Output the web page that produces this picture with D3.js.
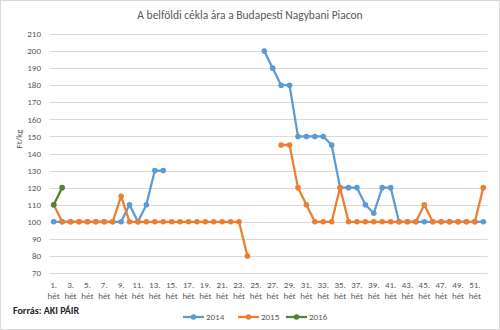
<!DOCTYPE html>
<html><head><meta charset="utf-8">
<script src="https://cdn.jsdelivr.net/npm/d3@7"></script>
<style>body{margin:0;background:#fff}svg{display:block}text{font-family:Calibri,Carlito,"Open Sans",sans-serif}</style>
</head><body>
<script>
const weeks = d3.range(1, 53);
const seriesNames = ["2014", "2015", "2016"];
const s2014 = [100,100,100,100,100,100,100,100,100,110,100,110,130,130,null,null,null,null,null,null,null,null,null,null,null,200,190,180,180,150,150,150,150,145,120,120,120,110,105,120,120,100,100,100,100,100,100,100,100,100,100,100];
const s2015 = [110,100,100,100,100,100,100,100,115,100,100,100,100,100,100,100,100,100,100,100,100,100,100,80,null,null,null,145,145,120,110,100,100,100,120,100,100,100,100,100,100,100,100,100,110,100,100,100,100,100,100,120];
const s2016 = [110,120];
const yTicks = d3.range(70, 211, 10);
const colors = ["#5B9BD5", "#ED7D31", "#548235"];
const data = [s2014, s2015, s2016];

const W = 500, H = 330;
const svg = d3.select("body").append("svg").attr("width", W).attr("height", H);
svg.append("rect").attr("x",0.5).attr("y",0.5).attr("width",W-1).attr("height",H-1).attr("fill","#fff").attr("stroke","#d9d9d9");

const x = d3.scaleBand().domain(weeks).range([49.5, 487.5]);
const y = d3.scaleLinear().domain([70, 210]).range([273, 34]);
const cx = w => x(w) + x.bandwidth() / 2;

svg.append("g").selectAll("line").data(yTicks).join("line")
  .attr("x1", 49.5).attr("x2", 487.5)
  .attr("y1", d => Math.round(y(d)) + 0.5).attr("y2", d => Math.round(y(d)) + 0.5)
  .attr("stroke", "#d9d9d9").attr("stroke-width", 1);

svg.append("g").selectAll("text").data(yTicks).join("text")
  .attr("x", 41).attr("y", d => y(d)).attr("dy", "0.35em")
  .attr("text-anchor", "end").attr("font-size", 9).attr("fill", "#595959").text(d => d);

const xl = svg.append("g").selectAll("text").data(weeks.filter(w => w % 2 === 1)).join("text")
  .attr("text-anchor", "middle").attr("font-size", 9).attr("fill", "#595959");
xl.append("tspan").attr("x", d => cx(d)).attr("y", 288).text(d => d + ".");
xl.append("tspan").attr("x", d => cx(d)).attr("y", 299).text("hét");

svg.append("text").attr("x", 250).attr("y", 19).attr("text-anchor", "middle")
  .attr("font-size", 11.5).attr("fill", "#595959").text("A belföldi cékla ára a Budapesti Nagybani Piacon");

svg.append("text").attr("transform", "translate(22,139) rotate(-90)").attr("text-anchor", "middle")
  .attr("font-size", 9).attr("fill", "#595959").text("Ft/kg");

svg.append("text").attr("x", 13).attr("y", 314).attr("font-size", 10).attr("font-weight", "bold")
  .attr("fill", "#262626").text("Forrás: AKI PÁIR");

const line = d3.line().defined(d => d.v != null).x(d => cx(d.w)).y(d => y(d.v));
data.forEach((s, i) => {
  const pts = s.map((v, j) => ({ w: weeks[j], v }));
  svg.append("path").datum(pts).attr("d", line).attr("fill", "none")
    .attr("stroke", colors[i]).attr("stroke-width", 2.25).attr("stroke-linejoin", "round");
  svg.append("g").selectAll("circle").data(pts.filter(d => d.v != null)).join("circle")
    .attr("cx", d => cx(d.w)).attr("cy", d => y(d.v)).attr("r", 2.8).attr("fill", colors[i]);
});

const legX = [183, 238, 286];
seriesNames.forEach((n, i) => {
  const g = svg.append("g").attr("transform", `translate(${legX[i]},317)`);
  g.append("line").attr("x1", 0).attr("x2", 21).attr("stroke", colors[i]).attr("stroke-width", 2.25);
  g.append("circle").attr("cx", 10.5).attr("r", 2.8).attr("fill", colors[i]);
  g.append("text").attr("x", 23).attr("dy", "0.35em").attr("font-size", 9).attr("fill", "#595959").text(n);
});
</script>
</body></html>
